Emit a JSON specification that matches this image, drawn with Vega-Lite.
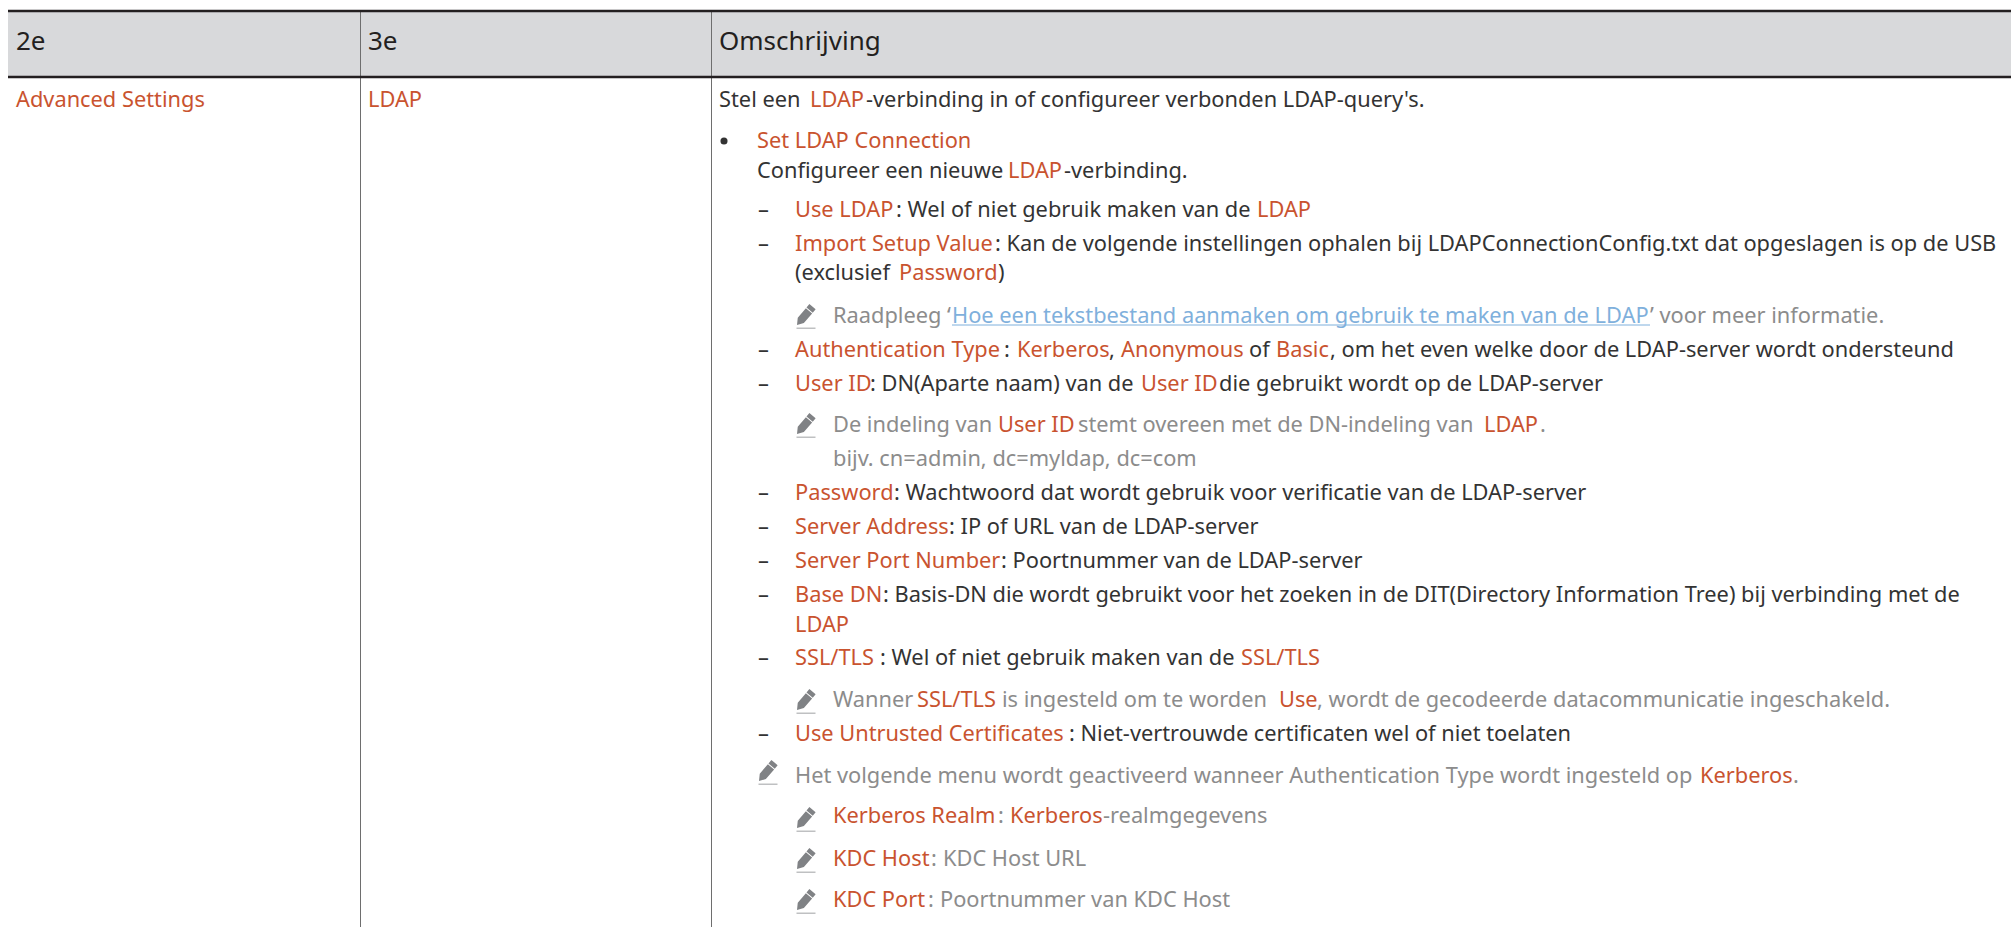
{"$schema":"https://vega.github.io/schema/vega-lite/v6.json","width":2011,"height":927,"padding":0,"autosize":{"type":"none"},"background":"#ffffff","config":{"view":{"stroke":null}},
"datasets":{
"bands":[{"a":8,"b":2011,"c":12,"d":76}],
"hlines":[{"a":8,"b":2011,"c":11},{"a":8,"b":2011,"c":77}],
"vlines":[{"a":360.5,"c":10,"d":927},{"a":711.5,"c":10,"d":927}],
"links":[{"a":952,"b":1650,"c":325}],
"bullets":[{"col":724,"row":141}],
"icons":[{"col":806,"row":425},{"col":806,"row":701},{"col":768,"row":772},{"col":806,"row":819},{"col":806,"row":860},{"col":806,"row":901},{"col":806,"row":316}],
"heads":[{"col":16,"row":50,"t":"2e"},{"col":368,"row":50,"t":"3e"},{"col":719,"row":50,"t":"Omschrijving"}],
"segs":[
{"col":16,"row":107,"k":"accent","t":"Advanced Settings"},
{"col":368,"row":107,"k":"accent","t":"LDAP"},
{"col":719,"row":107,"k":"body","t":"Stel een"},
{"col":810,"row":107,"k":"accent","t":"LDAP"},
{"col":866,"row":107,"k":"body","t":"-verbinding in of configureer verbonden LDAP-query's."},
{"col":757,"row":148,"k":"accent","t":"Set LDAP Connection"},
{"col":757,"row":178,"k":"body","t":"Configureer een nieuwe"},
{"col":1008,"row":178,"k":"accent","t":"LDAP"},
{"col":1064,"row":178,"k":"body","t":"-verbinding."},
{"col":758,"row":217,"k":"body","t":"–"},
{"col":795,"row":217,"k":"accent","t":"Use LDAP"},
{"col":896,"row":217,"k":"body","t":": Wel of niet gebruik maken van de"},
{"col":1257,"row":217,"k":"accent","t":"LDAP"},
{"col":758,"row":251,"k":"body","t":"–"},
{"col":795,"row":251,"k":"accent","t":"Import Setup Value"},
{"col":995,"row":251,"k":"body","t":": Kan de volgende instellingen ophalen bij LDAPConnectionConfig.txt dat opgeslagen is op de USB"},
{"col":795,"row":280,"k":"body","t":"(exclusief"},
{"col":899,"row":280,"k":"accent","t":"Password"},
{"col":998,"row":280,"k":"body","t":")"},
{"col":833,"row":323,"k":"note","t":"Raadpleeg ‘"},
{"col":952,"row":323,"k":"link","t":"Hoe een tekstbestand aanmaken om gebruik te maken van de LDAP"},
{"col":1650,"row":323,"k":"note","t":"’ voor meer informatie."},
{"col":758,"row":357,"k":"body","t":"–"},
{"col":795,"row":357,"k":"accent","t":"Authentication Type"},
{"col":1004,"row":357,"k":"body","t":":"},
{"col":1017,"row":357,"k":"accent","t":"Kerberos"},
{"col":1109,"row":357,"k":"body","t":","},
{"col":1121,"row":357,"k":"accent","t":"Anonymous"},
{"col":1249,"row":357,"k":"body","t":"of"},
{"col":1276,"row":357,"k":"accent","t":"Basic"},
{"col":1330,"row":357,"k":"body","t":", om het even welke door de LDAP-server wordt ondersteund"},
{"col":758,"row":391,"k":"body","t":"–"},
{"col":795,"row":391,"k":"accent","t":"User ID"},
{"col":870,"row":391,"k":"body","t":": DN(Aparte naam) van de"},
{"col":1141,"row":391,"k":"accent","t":"User ID"},
{"col":1219,"row":391,"k":"body","t":"die gebruikt wordt op de LDAP-server"},
{"col":833,"row":432,"k":"note","t":"De indeling van"},
{"col":998,"row":432,"k":"accent","t":"User ID"},
{"col":1078,"row":432,"k":"note","t":"stemt overeen met de DN-indeling van"},
{"col":1484,"row":432,"k":"accent","t":"LDAP"},
{"col":1540,"row":432,"k":"note","t":"."},
{"col":833,"row":466,"k":"note","t":"bijv. cn=admin, dc=myldap, dc=com"},
{"col":758,"row":500,"k":"body","t":"–"},
{"col":795,"row":500,"k":"accent","t":"Password"},
{"col":894,"row":500,"k":"body","t":": Wachtwoord dat wordt gebruik voor verificatie van de LDAP-server"},
{"col":758,"row":534,"k":"body","t":"–"},
{"col":795,"row":534,"k":"accent","t":"Server Address"},
{"col":949,"row":534,"k":"body","t":": IP of URL van de LDAP-server"},
{"col":758,"row":568,"k":"body","t":"–"},
{"col":795,"row":568,"k":"accent","t":"Server Port Number"},
{"col":1001,"row":568,"k":"body","t":": Poortnummer van de LDAP-server"},
{"col":758,"row":602,"k":"body","t":"–"},
{"col":795,"row":602,"k":"accent","t":"Base DN"},
{"col":883,"row":602,"k":"body","t":": Basis-DN die wordt gebruikt voor het zoeken in de DIT(Directory Information Tree) bij verbinding met de"},
{"col":795,"row":632,"k":"accent","t":"LDAP"},
{"col":758,"row":665,"k":"body","t":"–"},
{"col":795,"row":665,"k":"accent","t":"SSL/TLS"},
{"col":880,"row":665,"k":"body","t":": Wel of niet gebruik maken van de"},
{"col":1241,"row":665,"k":"accent","t":"SSL/TLS"},
{"col":833,"row":707,"k":"note","t":"Wanner"},
{"col":917,"row":707,"k":"accent","t":"SSL/TLS"},
{"col":1002,"row":707,"k":"note","t":"is ingesteld om te worden"},
{"col":1279,"row":707,"k":"accent","t":"Use"},
{"col":1317,"row":707,"k":"note","t":", wordt de gecodeerde datacommunicatie ingeschakeld."},
{"col":758,"row":741,"k":"body","t":"–"},
{"col":795,"row":741,"k":"accent","t":"Use Untrusted Certificates"},
{"col":1069,"row":741,"k":"body","t":": Niet-vertrouwde certificaten wel of niet toelaten"},
{"col":795,"row":783,"k":"note","t":"Het volgende menu wordt geactiveerd wanneer Authentication Type wordt ingesteld op"},
{"col":1700,"row":783,"k":"accent","t":"Kerberos"},
{"col":1793,"row":783,"k":"note","t":"."},
{"col":833,"row":823,"k":"accent","t":"Kerberos Realm"},
{"col":998,"row":823,"k":"note","t":":"},
{"col":1010,"row":823,"k":"accent","t":"Kerberos"},
{"col":1103,"row":823,"k":"note","t":"-realmgegevens"},
{"col":833,"row":866,"k":"accent","t":"KDC Host"},
{"col":931,"row":866,"k":"note","t":":"},
{"col":943,"row":866,"k":"note","t":"KDC Host URL"},
{"col":833,"row":907,"k":"accent","t":"KDC Port"},
{"col":928,"row":907,"k":"note","t":":"},
{"col":940,"row":907,"k":"note","t":"Poortnummer van KDC Host"}
]},
"layer":[
{"data":{"name":"bands"},"mark":{"type":"rect","color":"#d8d9db"},"encoding":{"x":{"field":"a","type":"quantitative","scale":{"domain":[0,2011]},"axis":null},"x2":{"field":"b"},"y":{"field":"c","type":"quantitative","scale":{"domain":[927,0]},"axis":null},"y2":{"field":"d"}}},
{"data":{"name":"vlines"},"mark":{"type":"rule","color":"#6e6e6e","strokeWidth":1},"encoding":{"x":{"field":"a","type":"quantitative","scale":{"domain":[0,2011]},"axis":null},"y":{"field":"c","type":"quantitative","scale":{"domain":[927,0]},"axis":null},"y2":{"field":"d"}}},
{"data":{"name":"hlines"},"mark":{"type":"rule","color":"#231f20","strokeWidth":2.5},"encoding":{"x":{"field":"a","type":"quantitative","scale":{"domain":[0,2011]},"axis":null},"x2":{"field":"b"},"y":{"field":"c","type":"quantitative","scale":{"domain":[927,0]},"axis":null}}},
{"data":{"name":"links"},"mark":{"type":"rule","color":"#7fb0dc","strokeWidth":1},"encoding":{"x":{"field":"a","type":"quantitative","scale":{"domain":[0,2011]},"axis":null},"x2":{"field":"b"},"y":{"field":"c","type":"quantitative","scale":{"domain":[927,0]},"axis":null}}},
{"data":{"name":"bullets"},"mark":{"type":"circle","color":"#333333","opacity":1,"size":50},"encoding":{"x":{"field":"col","type":"quantitative","scale":{"domain":[0,2011]},"axis":null},"y":{"field":"row","type":"quantitative","scale":{"domain":[927,0]},"axis":null}}},
{"data":{"name":"icons"},"mark":{"type":"point","filled":true,"color":"#808285","opacity":1,"size":625,"shape":"M-.72 .72L-.66 .14L-.01 -.63L.49 -.21L-.17 .56Z M.04 -.69L.27 -.97L.77 -.55L.54 -.27Z M-.76 .93H.76V1H-.76Z"},"encoding":{"x":{"field":"col","type":"quantitative","scale":{"domain":[0,2011]},"axis":null},"y":{"field":"row","type":"quantitative","scale":{"domain":[927,0]},"axis":null}}},
{"data":{"name":"heads"},"mark":{"type":"text","align":"left","baseline":"alphabetic","font":"Noto Sans","fontSize":26,"color":"#231f20"},"encoding":{"x":{"field":"col","type":"quantitative","scale":{"domain":[0,2011]},"axis":null},"y":{"field":"row","type":"quantitative","scale":{"domain":[927,0]},"axis":null},"text":{"field":"t"}}},
{"data":{"name":"segs"},"mark":{"type":"text","align":"left","baseline":"alphabetic","font":"Noto Sans","fontSize":21.8},"encoding":{"x":{"field":"col","type":"quantitative","scale":{"domain":[0,2011]},"axis":null},"y":{"field":"row","type":"quantitative","scale":{"domain":[927,0]},"axis":null},"text":{"field":"t"},"color":{"field":"k","type":"nominal","legend":null,"scale":{"domain":["body","accent","note","link"],"range":["#333333","#c9532f","#8c8c8c","#7fb0dc"]}}}}
]}
